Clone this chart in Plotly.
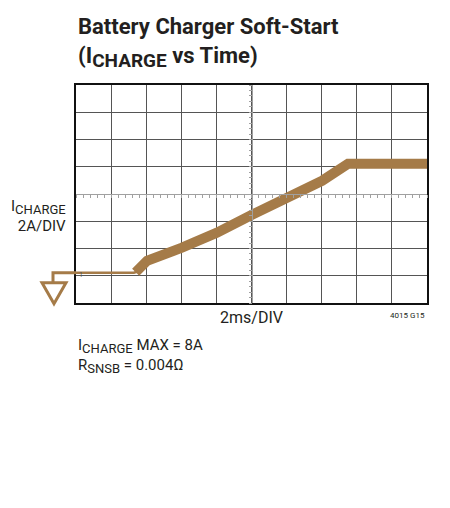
import plotly.graph_objects as go

# Scope trace (time in ms, current in A)
t_base = [0, 3.3, 3.6]
i_base = [0.22, 0.22, 0.35]
t_ramp = [3.4, 3.7, 4.05, 6.04, 8.03, 10.03, 12.02, 14.02, 15.5, 20]
i_ramp = [0.25, 0.55, 1.10, 2.06, 3.16, 4.48, 5.72, 6.97, 8.22, 8.22]

x_range = [0, 20]
y_range = [-2, 14]
trace_color = '#a57b48'
ink = '#231f20'
font_family = 'Roboto, Liberation Sans, sans-serif'

fig = go.Figure()
fig.add_trace(go.Scatter(x=t_base, y=i_base, mode='lines',
                         line=dict(color=trace_color, width=2.5), hoverinfo='skip'))
fig.add_trace(go.Scatter(x=t_ramp, y=i_ramp, mode='lines',
                         line=dict(color=trace_color, width=10), hoverinfo='skip'))
# empty trace so the center graticule axes get drawn
fig.add_trace(go.Scatter(x=[None], y=[None], xaxis='x2', yaxis='y2', hoverinfo='skip'))

grid = dict(showgrid=True, gridcolor='#555', gridwidth=1, zeroline=False,
            showticklabels=False, ticks='', showline=True, linecolor='#111',
            linewidth=2, mirror=True)
fig.update_xaxes(range=x_range, dtick=2, **grid)
fig.update_yaxes(range=y_range, dtick=2, **grid)

# Center graticule lines with minor ticks
center = dict(showgrid=False, zeroline=False, showticklabels=False, showline=True,
              linecolor='#a0a0a0', linewidth=1, ticks='outside', ticklen=3,
              tickcolor='#a0a0a0', anchor='free', position=0.5)
fig.update_layout(
    xaxis2=dict(overlaying='x', range=x_range, dtick=0.4, **center),
    yaxis2=dict(overlaying='y', range=y_range, dtick=0.4, **center),
)

# Ground reference symbol on the left of the screen
gnd_y = (i_base[0] - y_range[0]) / (y_range[1] - y_range[0])
gnd = dict(type='path', xref='paper', yref='paper', xsizemode='pixel', ysizemode='pixel',
           xanchor=0, yanchor=gnd_y, line=dict(color=trace_color, width=3))
fig.add_shape(path='M 0 0 L -23 0 L -23 -10', **gnd)
fig.add_shape(path='M -34 -10 L -10 -10 L -22 -31 Z', **gnd)


def font(size, color=ink):
    return dict(family=font_family, color=color, size=size)


def sub(s, size):
    return f'<sub><span style="font-size:{size}px">{s}</span></sub>'


fig.add_annotation(x=0, y=1, xref='paper', yref='paper', xanchor='left', yanchor='bottom',
                   yshift=11, align='left', showarrow=False, font=font(22),
                   text='<b>Battery Charger Soft-Start<br>(I' + sub('CHARGE', 19) + ' vs Time)</b>')
fig.add_annotation(x=0, y=0.40, xref='paper', yref='paper', xanchor='right', yanchor='middle',
                   xshift=-8, align='right', showarrow=False, font=font(15),
                   text='I' + sub('CHARGE', 13) + '<br>2A/DIV')
fig.add_annotation(x=0.5, y=0, xref='paper', yref='paper', xanchor='center', yanchor='top',
                   yshift=-3, showarrow=False, font=font(16), text='2ms/DIV')
fig.add_annotation(x=1, y=0, xref='paper', yref='paper', xanchor='right', yanchor='top',
                   yshift=-6, showarrow=False, font=font(8), text='4015 G15')
fig.add_annotation(x=0, y=0, xref='paper', yref='paper', xanchor='left', yanchor='top',
                   yshift=-31, align='left', showarrow=False, font=font(15),
                   text='I' + sub('CHARGE', 13) + ' MAX = 8A<br>R' + sub('SNSB', 13) + ' = 0.004Ω')
fig.add_annotation(x=0, y=i_base[0], xref='x', yref='y', xanchor='left', yanchor='middle',
                   xshift=1, yshift=-2, showarrow=False, font=font(7, '#555'), text='1')

# page body keeps an 8px margin, so the margins are offset by that amount
fig.update_layout(
    width=450, height=508,
    margin=dict(l=68, r=31, t=77, b=213),
    plot_bgcolor='#fff', paper_bgcolor='#fff',
    showlegend=False,
)

fig.write_html("out.html")
